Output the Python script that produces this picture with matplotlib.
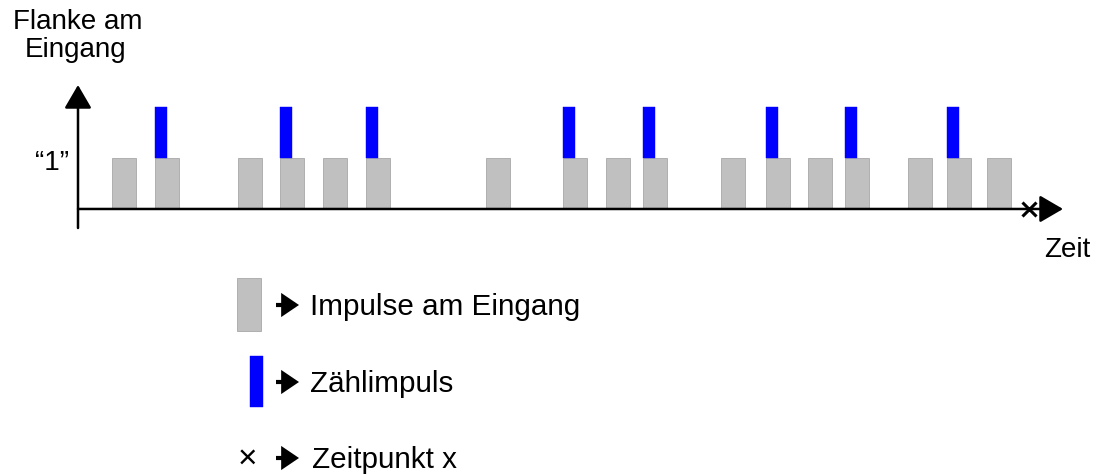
import matplotlib
matplotlib.use("Agg")

import matplotlib.pyplot as plt
from matplotlib.patches import Rectangle


# -----------------------------
# Signal data (time in arbitrary units, level in "1" units)
# -----------------------------
pulse_starts = [34, 77, 160, 202, 245, 288, 408, 485, 528, 565,
                643, 688, 730, 767, 830, 869, 909]
pulse_width = 24
pulse_level = 1.0

count_idx = [1, 3, 5, 7, 9, 11, 13, 15]
count_width = 12
count_level = 1.0

time_x = 951          # Zeitpunkt x
t_end = 985
y_low, y_high = -0.373, 2.431

labels = {
    "y": "Flanke am",
    "y2": "Eingang",
    "one": "\u201c1\u201d",
    "x": "Zeit",
    "gray": "Impulse am Eingang",
    "blue": "Zählimpuls",
    "cross": "Zeitpunkt x",
}

GRAY = "#c0c0c0"
GRAY_EDGE = "#a8a8a8"
BLUE = "#0000ff"
FONT = ["Liberation Sans", "DejaVu Sans"]
FS = 20
FS_KEY = 21.3

plt.rcParams["font.family"] = FONT

W, H = 1097, 475
fig = plt.figure(figsize=(W / 100, H / 100), dpi=100)

# layout axes in pixel units for labels and the key
lay = fig.add_axes([0, 0, 1, 1])
lay.set_xlim(0, W)
lay.set_ylim(H, 0)
lay.axis("off")

# signal axes
x0_px, x1_px = 78, 1063
top_px, bot_px = 85, 228
ax = fig.add_axes([x0_px / W, 1 - bot_px / H, (x1_px - x0_px) / W, (bot_px - top_px) / H])
ax.set_xlim(0, t_end)
ax.set_ylim(y_low, y_high)
ax.axis("off")
ax.patch.set_alpha(0)

ax.bar(pulse_starts, pulse_level, width=pulse_width, align="edge",
       color=GRAY, edgecolor=GRAY_EDGE, linewidth=0.6, zorder=2)
ax.bar([pulse_starts[i] for i in count_idx], count_level, width=count_width,
       bottom=pulse_level, align="edge", color=BLUE, edgecolor=BLUE,
       linewidth=0.3, zorder=2)

arrow = dict(arrowstyle="-|>,head_length=0.72,head_width=0.42", mutation_scale=20,
             lw=1.8, color="black", shrinkA=0, shrinkB=0)
ax.annotate("", xy=(0, y_high), xytext=(0, y_low), arrowprops=arrow,
            annotation_clip=False, zorder=4)
ax.annotate("", xy=(t_end, 0), xytext=(0, 0), arrowprops=arrow,
            annotation_clip=False, zorder=4)
ax.plot([time_x], [0], marker="x", ms=10, mew=2.2, color="black",
        clip_on=False, zorder=5)

# axis texts
lay.text(78, 29, labels["y"], fontsize=FS, ha="center", va="baseline")
lay.text(76, 57, labels["y2"], fontsize=FS, ha="center", va="baseline")
lay.text(69, 163, labels["one"], fontsize=FS, ha="right", va="center")
lay.text(1044, 257, labels["x"], fontsize=FS, ha="left", va="baseline")

# key
lay.add_patch(Rectangle((237, 278), 24, 53, facecolor=GRAY, edgecolor=GRAY_EDGE, lw=0.6))
lay.add_patch(Rectangle((250, 356), 13, 51, facecolor=BLUE, edgecolor=BLUE, lw=0.3))
lay.text(247, 459, "\u00d7", fontsize=24, ha="center", va="center")
key_arrow = dict(arrowstyle="-|>,head_length=0.62,head_width=0.42", mutation_scale=14,
                 lw=3.0, color="black", shrinkA=0, shrinkB=0,
                 capstyle="butt", joinstyle="miter")
for yc in (305, 382, 458):
    lay.annotate("", xy=(299, yc), xytext=(276, yc), arrowprops=key_arrow)
lay.text(310, 315, labels["gray"], fontsize=FS_KEY, ha="left", va="baseline")
lay.text(310, 392, labels["blue"], fontsize=FS_KEY, ha="left", va="baseline")
lay.text(312, 468, labels["cross"], fontsize=FS_KEY, ha="left", va="baseline")

fig.savefig("out.png", dpi=100)
